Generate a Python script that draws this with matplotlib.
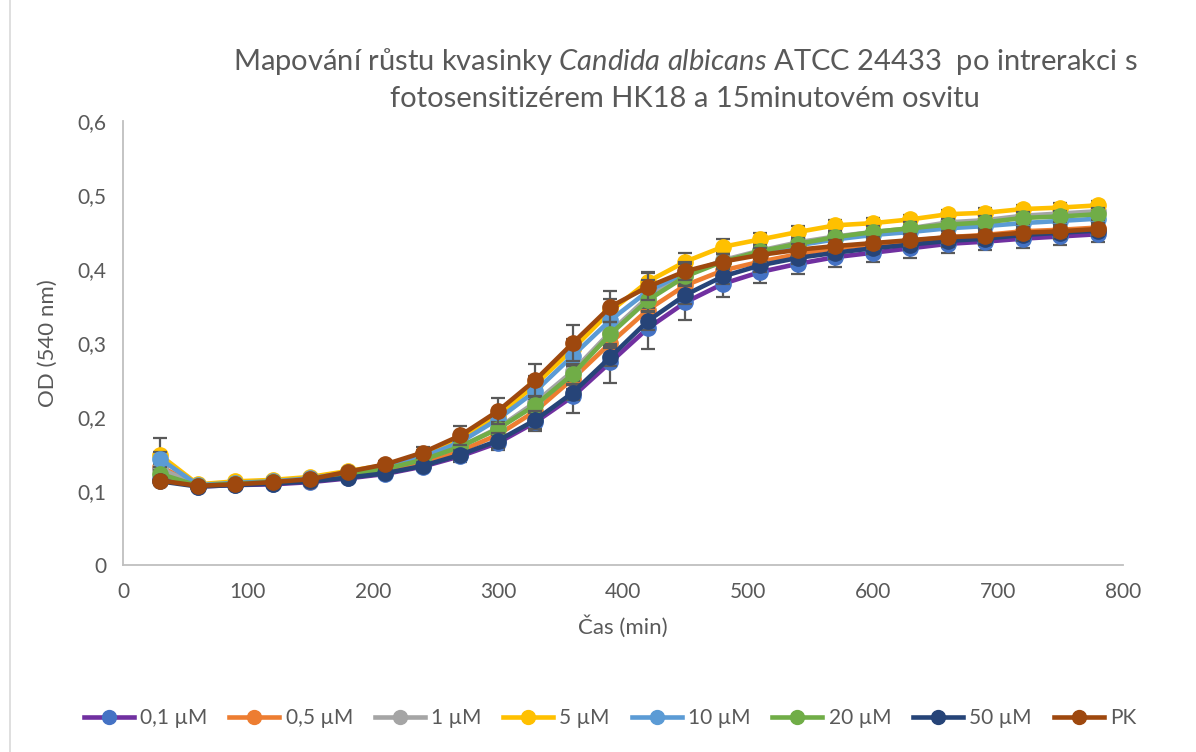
import matplotlib
matplotlib.use("Agg")
import matplotlib.pyplot as plt
from matplotlib.ticker import FuncFormatter, MultipleLocator
from matplotlib.lines import Line2D

plt.rcParams["font.family"] = ["Lato", "DejaVu Sans"]
plt.rcParams["mathtext.fontset"] = "custom"
plt.rcParams["mathtext.it"] = "Lato:italic"
plt.rcParams["mathtext.rm"] = "Lato"

time_min = [30, 60, 90, 120, 150, 180, 210, 240, 270, 300, 330, 360, 390,
            420, 450, 480, 510, 540, 570, 600, 630, 660, 690, 720, 750, 780]

labels = ["0,1 µM", "0,5 µM", "1 µM", "5 µM", "10 µM", "20 µM", "50 µM", "PK"]

od_01 = [0.116, 0.106, 0.108, 0.109, 0.112, 0.117, 0.123, 0.133, 0.147, 0.165, 0.193, 0.228, 0.274,
         0.320, 0.355, 0.380, 0.396, 0.407, 0.416, 0.422, 0.428, 0.434, 0.437, 0.441, 0.444, 0.447]
od_05 = [0.133, 0.107, 0.110, 0.111, 0.114, 0.120, 0.127, 0.137, 0.154, 0.176, 0.208, 0.252, 0.300,
         0.345, 0.378, 0.398, 0.410, 0.420, 0.428, 0.433, 0.438, 0.443, 0.446, 0.451, 0.453, 0.456]
od_1 = [0.130, 0.108, 0.111, 0.113, 0.116, 0.123, 0.131, 0.143, 0.160, 0.185, 0.220, 0.262, 0.315,
        0.362, 0.392, 0.412, 0.425, 0.436, 0.444, 0.450, 0.455, 0.463, 0.466, 0.472, 0.475, 0.478]
od_5 = [0.148, 0.109, 0.113, 0.115, 0.119, 0.127, 0.135, 0.150, 0.170, 0.202, 0.244, 0.292, 0.343,
        0.383, 0.410, 0.430, 0.440, 0.450, 0.459, 0.462, 0.467, 0.474, 0.476, 0.481, 0.483, 0.486]
od_10 = [0.143, 0.108, 0.111, 0.113, 0.117, 0.125, 0.133, 0.146, 0.166, 0.197, 0.235, 0.283, 0.331,
         0.370, 0.395, 0.410, 0.422, 0.432, 0.440, 0.446, 0.450, 0.455, 0.458, 0.462, 0.465, 0.468]
od_20 = [0.123, 0.107, 0.110, 0.112, 0.115, 0.122, 0.130, 0.142, 0.160, 0.184, 0.216, 0.258, 0.312,
         0.358, 0.390, 0.410, 0.424, 0.434, 0.443, 0.450, 0.455, 0.460, 0.463, 0.469, 0.471, 0.474]
od_50 = [0.113, 0.106, 0.108, 0.110, 0.113, 0.118, 0.124, 0.134, 0.149, 0.168, 0.196, 0.233, 0.281,
         0.330, 0.365, 0.390, 0.405, 0.415, 0.422, 0.428, 0.433, 0.438, 0.441, 0.446, 0.449, 0.452]
od_pk = [0.114, 0.107, 0.109, 0.112, 0.116, 0.126, 0.136, 0.152, 0.175, 0.208, 0.250, 0.300, 0.349,
         0.376, 0.397, 0.410, 0.419, 0.426, 0.431, 0.435, 0.439, 0.443, 0.445, 0.449, 0.451, 0.454]

# standard deviations
sd_01 = [0.004, 0.002, 0.002, 0.002, 0.003, 0.003, 0.004, 0.005, 0.008, 0.010, 0.012, 0.022, 0.028,
         0.028, 0.024, 0.018, 0.015, 0.014, 0.013, 0.013, 0.013, 0.012, 0.012, 0.012, 0.011, 0.011]
sd_05 = [0.006, 0.002, 0.002, 0.002, 0.003, 0.003, 0.004, 0.005, 0.007, 0.009, 0.011, 0.014, 0.016,
         0.015, 0.012, 0.010, 0.009, 0.008, 0.008, 0.008, 0.008, 0.008, 0.008, 0.008, 0.008, 0.008]
sd_1 = [0.006, 0.002, 0.002, 0.002, 0.003, 0.003, 0.004, 0.005, 0.007, 0.009, 0.011, 0.014, 0.016,
        0.015, 0.012, 0.010, 0.009, 0.008, 0.008, 0.008, 0.008, 0.008, 0.008, 0.008, 0.008, 0.008]
sd_5 = [0.023, 0.002, 0.002, 0.002, 0.003, 0.003, 0.004, 0.005, 0.007, 0.009, 0.011, 0.014, 0.016,
        0.013, 0.012, 0.010, 0.009, 0.008, 0.007, 0.007, 0.006, 0.006, 0.006, 0.006, 0.006, 0.006]
sd_10 = [0.010, 0.002, 0.002, 0.002, 0.003, 0.003, 0.004, 0.005, 0.007, 0.009, 0.011, 0.014, 0.016,
         0.015, 0.012, 0.010, 0.009, 0.008, 0.008, 0.008, 0.008, 0.008, 0.008, 0.008, 0.008, 0.008]
sd_20 = [0.006, 0.002, 0.002, 0.002, 0.003, 0.003, 0.004, 0.005, 0.007, 0.009, 0.011, 0.014, 0.016,
         0.015, 0.012, 0.010, 0.009, 0.008, 0.008, 0.008, 0.008, 0.008, 0.008, 0.008, 0.008, 0.008]
sd_50 = [0.004, 0.002, 0.002, 0.002, 0.003, 0.003, 0.004, 0.005, 0.007, 0.010, 0.012, 0.010, 0.012,
         0.012, 0.012, 0.010, 0.009, 0.008, 0.008, 0.008, 0.008, 0.008, 0.008, 0.008, 0.008, 0.008]
sd_pk = [0.004, 0.002, 0.002, 0.002, 0.003, 0.003, 0.004, 0.007, 0.013, 0.018, 0.022, 0.024, 0.021,
         0.018, 0.012, 0.010, 0.009, 0.008, 0.008, 0.008, 0.008, 0.008, 0.008, 0.008, 0.008, 0.008]

series = [od_01, od_05, od_1, od_5, od_10, od_20, od_50, od_pk]
errors = [sd_01, sd_05, sd_1, sd_5, sd_10, sd_20, sd_50, sd_pk]
line_colors = ["#7030A0", "#ED7D31", "#A5A5A5", "#FFC000", "#5B9BD5", "#70AD47", "#264478", "#9E480E"]
marker_colors = ["#4472C4", "#ED7D31", "#A5A5A5", "#FFC000", "#5B9BD5", "#70AD47", "#264478", "#9E480E"]

text_color = "#595959"
axis_color = "#BFBFBF"

fig = plt.figure(figsize=(11.96, 7.52), dpi=100)
ax = fig.add_axes([0.1028, 0.2487, 0.8361, 0.5904])

handles = []
for i, (vals, err, lc, mc, lab) in enumerate(zip(series, errors, line_colors, marker_colors, labels)):
    ax.errorbar(time_min, vals, yerr=err, fmt="none", ecolor="#595959",
                elinewidth=1.6, capsize=5, capthick=1.6, zorder=2 + i * 2)
    ax.plot(time_min, vals, color=lc, linewidth=3.3, marker="o", markersize=11,
            markerfacecolor=mc, markeredgecolor=mc, zorder=3 + i * 2,
            solid_joinstyle="round")
    handles.append(Line2D([0], [0], color=lc, linewidth=3.3, marker="o", markersize=10,
                          markerfacecolor=mc, markeredgecolor=mc))

ax.set_xlim(0, 800)
ax.set_ylim(0, 0.6)
ax.xaxis.set_major_locator(MultipleLocator(100))
ax.yaxis.set_major_locator(MultipleLocator(0.1))
ax.yaxis.set_major_formatter(FuncFormatter(lambda v, p: ("%g" % round(v, 2)).replace(".", ",")))

for side in ("top", "right"):
    ax.spines[side].set_visible(False)
for side in ("left", "bottom"):
    ax.spines[side].set_color(axis_color)
    ax.spines[side].set_linewidth(1.3)
ax.tick_params(axis="both", length=0, labelsize=15, colors=text_color, pad=12)

ax.set_xlabel("Čas (min)", fontsize=16, color=text_color, labelpad=10)
ax.set_ylabel("OD (540 nm)", fontsize=16, color=text_color, labelpad=14)

fig.text(0.573, 0.918,
         "Mapování růstu kvasinky $\\mathit{Candida\\ albicans}$ ATCC 24433  po intrerakci s",
         ha="center", va="center", fontsize=21, color=text_color)
fig.text(0.573, 0.868, "fotosensitizérem HK18 a 15minutovém osvitu",
         ha="center", va="center", fontsize=21, color=text_color)

fig.legend(handles, labels, loc="center", bbox_to_anchor=(0.51, 0.045), ncol=8,
           frameon=False, fontsize=15, labelcolor=text_color, handlelength=2.4,
           columnspacing=1.05, handletextpad=0.3)

fig.add_artist(Line2D([10 / 1196, 10 / 1196], [0, 1], color="#D9D9D9", linewidth=1.2))

fig.savefig("out.png", dpi=100)
